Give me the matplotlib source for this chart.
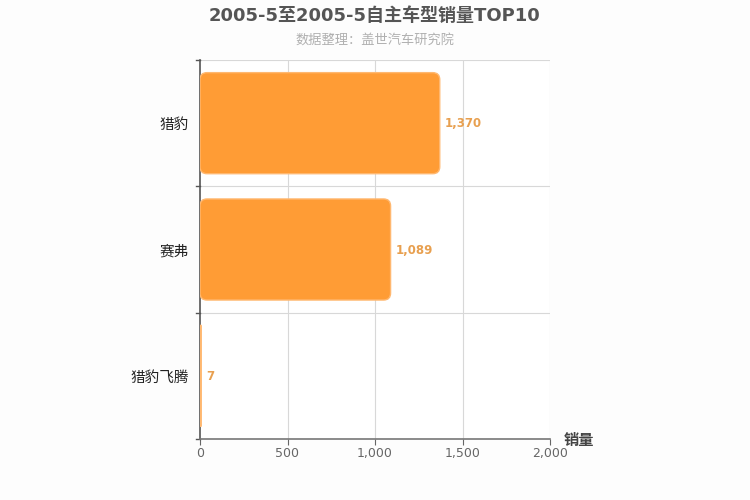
import matplotlib.pyplot as plt
from matplotlib.patches import FancyBboxPatch

# data
models = ['猎豹', '赛弗', '猎豹飞腾']
sales = [1370, 1089, 7]
xticks = [0, 500, 1000, 1500, 2000]

fonts = ['DejaVu Sans', 'Noto Sans CJK SC']
plt.rcParams['font.family'] = fonts

fig = plt.figure(figsize=(7.5, 5), dpi=100)
fig.patch.set_facecolor('#fdfdfd')
ax = fig.add_axes([200/750, 61/500, 350/750, 379/500])
ax.set_facecolor('#ffffff')

n = len(models)
ax.set_xlim(0, 2000)
ax.set_ylim(n - 0.5, -0.5)

# px -> data conversion for rounded corners
xpp = 2000 / 350
ypp = n / 379
aspect = ypp / xpp
bar_h = 0.8
for i, v in enumerate(sales):
    r = min(7 * xpp, v / 2)
    box = FancyBboxPatch((0, i - bar_h / 2), v, bar_h,
                         boxstyle=f'round,pad=0,rounding_size={r}',
                         mutation_aspect=aspect,
                         facecolor='#ff9c35', edgecolor='#ffb870', linewidth=1, zorder=3)
    ax.add_patch(box)
    ax.text(v + 5 * xpp, i + 0.005, f'{v:,}', va='center', ha='left',
            fontsize=8.5, fontweight='bold', color='#e8a050', zorder=4)

ax.set_xticks(xticks)
ax.set_xticklabels([f'{t:,}' for t in xticks], fontsize=9, color='#666666')
ax.set_yticks(range(n))
ax.set_yticklabels(models, fontsize=10.5, color='#222222')
ax.tick_params(axis='y', length=0, pad=8)
ax.tick_params(axis='x', length=4, color='#666666', pad=2)

# grid: vertical at x ticks, horizontal at category boundaries
for t in xticks[1:]:
    ax.axvline(t, color='#d8d8d8', linewidth=0.8, zorder=1)
for b in range(n + 1):
    y = b - 0.5
    ax.axhline(y, color='#d8d8d8', linewidth=0.8, zorder=1)
    ax.plot([-0.012, 0], [y, y], transform=ax.get_yaxis_transform(),
            color='#555555', linewidth=1, clip_on=False)

for s in ['top', 'right']:
    ax.spines[s].set_visible(False)
ax.spines['left'].set_color('#555555')
ax.spines['left'].set_linewidth(1.2)
ax.spines['bottom'].set_color('#777777')
ax.spines['bottom'].set_linewidth(1.2)

ax.text(1.04, -0.005, '销量', transform=ax.transAxes, fontsize=11,
        fontweight='bold', color='#444444', ha='left', va='center')

fig.text(375/750, 1 - 16/500, '2005-5至2005-5自主车型销量TOP10', ha='center', va='center',
         fontsize=13, fontweight='bold', color='#555555')
fig.text(375/750, 1 - 41/500, '数据整理：盖世汽车研究院', ha='center', va='center',
         fontsize=9.5, color='#b0b0b0')

fig.savefig('out.png', dpi=100, facecolor=fig.get_facecolor())
